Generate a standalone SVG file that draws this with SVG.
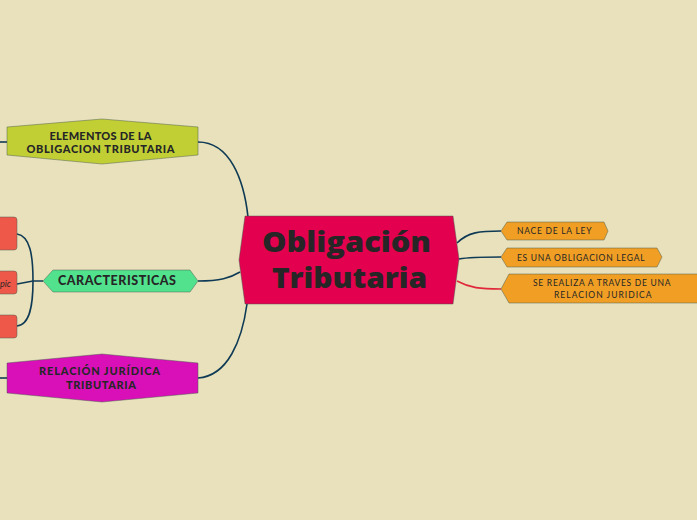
<svg xmlns="http://www.w3.org/2000/svg" width="697" height="520" viewBox="0 0 697 520">
<style>
.bg{fill:#e8e1bb}
.conn{fill:none;stroke:#0f3a55;stroke-width:1.6}
.red{stroke:#e0283a}
.nd{stroke:#4a5a50;stroke-width:0.8;stroke-opacity:0.6}
.t{font-family:Lato,"Open Sans","DejaVu Sans",sans-serif;fill:#262626;text-anchor:middle}
.main{font-family:"Open Sans",Lato,sans-serif;font-size:29px;font-weight:800}
.mid{font-size:11px;font-weight:900;letter-spacing:1px}
.sm{font-size:8.5px;letter-spacing:0.5px}
</style>
<rect class="bg" width="697" height="520"/>
<g id="connectors">
<path class="conn" d="M198,142 C230,142 244,180 248,217"/>
<path class="conn" d="M198,281 C220,281 230,278 240,272"/>
<path class="conn" d="M198,378 C228,376 242,340 247,304"/>
<path class="conn" d="M457,243 C468,232 480,231 501,231"/>
<path class="conn" d="M459,259 C470,257 480,257 501,257"/>
<path class="conn red" d="M457,281 C470,288 480,289 501,289"/>
<path class="conn" d="M0,142 H7"/>
<path class="conn" d="M0,378 H7"/>
<path class="conn" d="M17,234 C30,236 33,255 33,281 C33,305 30,325 17,326"/>
<path class="conn" d="M17,284 L33,281 H43"/>
</g>
<g id="main">
<polygon class="nd" fill="#e3004e" stroke="#1e3a55" points="245,216 453,216 459,259 453,304 245,304 239,260"/>
<text class="t main" x="346.5" y="252" textLength="169" lengthAdjust="spacingAndGlyphs">Obligación</text>
<text class="t main" x="349.5" y="288" textLength="155" lengthAdjust="spacingAndGlyphs">Tributaria</text>
</g>
<g id="elementos">
<polygon class="nd" fill="#c1cf35" points="7,127 102,119 198,127 198,155 102,164 7,155"/>
<text class="t mid" x="101" y="140" textLength="103" lengthAdjust="spacing">ELEMENTOS DE LA</text>
<text class="t mid" x="101" y="153" textLength="149" lengthAdjust="spacing">OBLIGACION TRIBUTARIA</text>
</g>
<g id="caracteristicas">
<polygon class="nd" fill="#52e28e" points="43,281 53,270 190,270 198,281 190,292 53,292"/>
<text class="t mid" x="117.5" y="285" style="font-size:12.5px" textLength="119" lengthAdjust="spacing">CARACTERISTICAS</text>
</g>
<g id="relacion">
<polygon class="nd" fill="#d910b8" points="7,363 102,354 198,363 198,393 102,402 7,393"/>
<text class="t mid" x="100" y="375" textLength="122" lengthAdjust="spacing">RELACIÓN JURÍDICA</text>
<text class="t mid" x="101.5" y="389" textLength="71" lengthAdjust="spacing">TRIBUTARIA</text>
</g>
<g id="sub1">
<rect class="nd" fill="#ee5848" x="-10" y="217" width="27" height="33" rx="3"/>
</g>
<g id="sub2">
<rect class="nd" fill="#ee5848" x="-10" y="271" width="27" height="23" rx="3"/>
<text x="0" y="287" style="font-family:Lato,sans-serif;font-size:9px;font-style:italic;fill:#262626">pic</text>
</g>
<g id="sub3">
<rect class="nd" fill="#ee5848" x="-10" y="315" width="27" height="23" rx="3"/>
</g>
<g id="nace">
<polygon class="nd" fill="#f09f24" points="501,231 507,222 604,222 608,231 604,240 507,240"/>
<text class="t sm" x="554.5" y="234" textLength="75" lengthAdjust="spacing">NACE  DE LA LEY</text>
</g>
<g id="esuna">
<polygon class="nd" fill="#f09f24" points="501,257 507,248 657,248 662,257 657,267 507,267"/>
<text class="t sm" x="581" y="261" textLength="128" lengthAdjust="spacing">ES UNA OBLIGACION LEGAL</text>
</g>
<g id="serealiza">
<polygon class="nd" fill="#f09f24" points="501,289 509,274 700,274 700,303 509,303"/>
<text class="t sm" x="602" y="286" textLength="138" lengthAdjust="spacing">SE REALIZA A TRAVES DE UNA</text>
<text class="t sm" x="603" y="298" textLength="98" lengthAdjust="spacing">RELACION JURIDICA</text>
</g>
</svg>
